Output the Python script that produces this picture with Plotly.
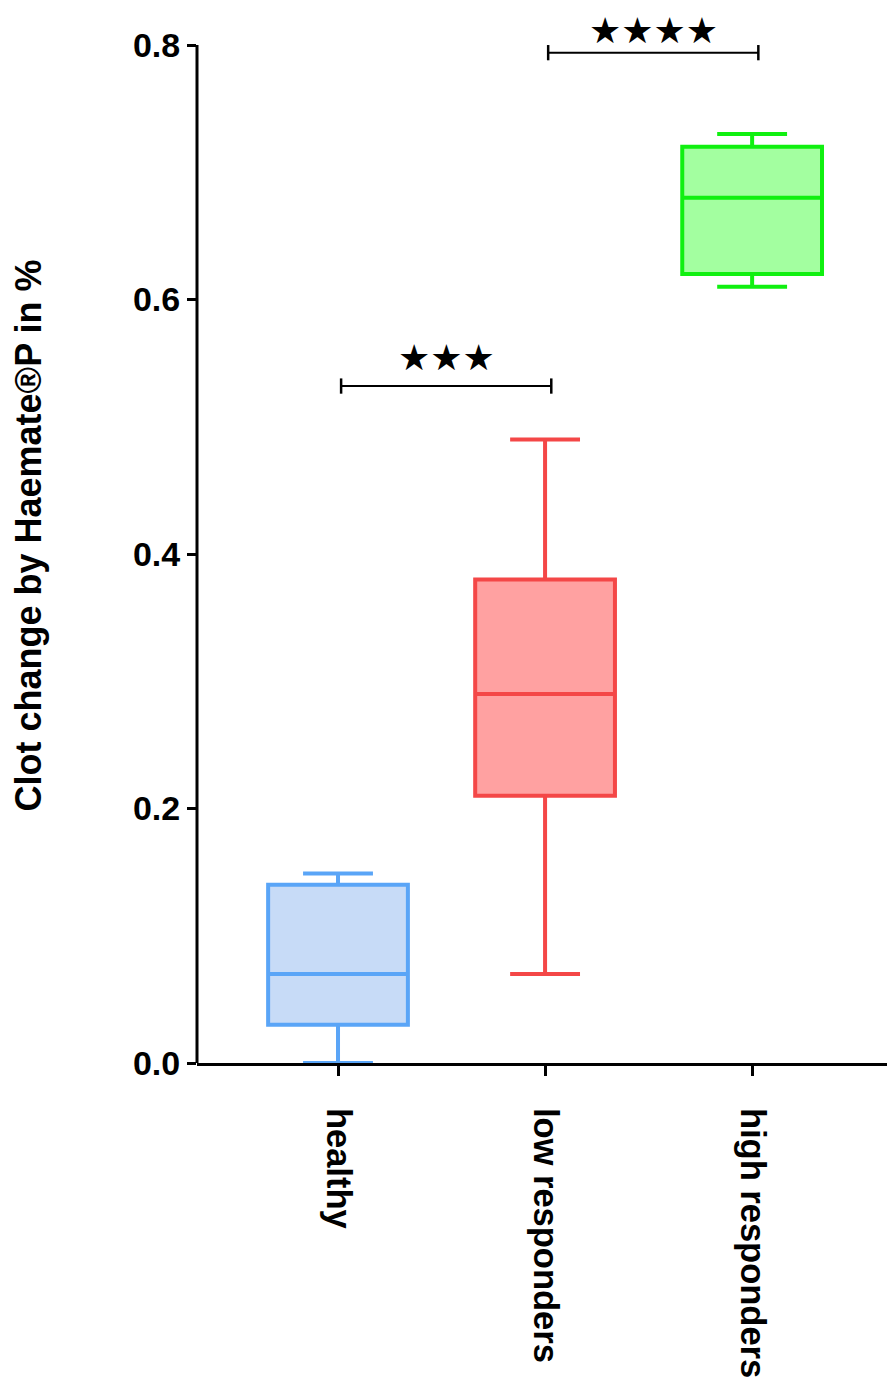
import plotly.graph_objects as go

categories = ["healthy", "low responders", "high responders"]
lower_whisker = [0.0, 0.07, 0.61]
q1_vals = [0.03, 0.21, 0.62]
median_vals = [0.07, 0.29, 0.68]
q3_vals = [0.14, 0.38, 0.72]
upper_whisker = [0.149, 0.49, 0.73]
line_colors = ["#5AA5F7", "#F44747", "#10F010"]
fill_colors = ["#C7DBF7", "#FFA1A1", "#A3FFA0"]
y_ticks = [0.0, 0.2, 0.4, 0.6, 0.8]
Y_MAX = 0.8291

# (group a, group b, bracket height, stars, star height, anchor)
sig_pairs = [(0, 1, 0.532, "★★★", 0.5545, "middle"),
             (1, 2, 0.794, "★★★★", Y_MAX, "top")]

FONT = "Liberation Sans, Arial, sans-serif"

fig = go.Figure()
for i, cat in enumerate(categories):
    fig.add_trace(go.Box(
        x=[i], q1=[q1_vals[i]], median=[median_vals[i]], q3=[q3_vals[i]],
        lowerfence=[lower_whisker[i]], upperfence=[upper_whisker[i]],
        width=0.675, whiskerwidth=0.5,
        line=dict(color=line_colors[i], width=4),
        fillcolor=fill_colors[i], boxpoints=False, hoverinfo="skip",
        showlegend=False,
    ))

# y axis line drawn only up to 0.8
fig.add_shape(type="line", xref="paper", yref="y", x0=0, x1=0, y0=0, y1=0.8,
              line=dict(color="black", width=3))

for a, b, y, stars, ys, anchor in sig_pairs:
    xa, xb = a + 0.015, b + 0.03
    fig.add_shape(type="line", x0=xa, x1=xb, y0=y, y1=y, line=dict(color="black", width=2))
    for xx in (xa, xb):
        fig.add_shape(type="line", x0=xx, x1=xx, y0=y - 0.006, y1=y + 0.006,
                      line=dict(color="black", width=2.5))
    fig.add_annotation(x=(xa + xb) / 2, y=ys, text=stars, showarrow=False,
                       yanchor=anchor, font=dict(family="DejaVu Sans", size=36, color="black"))

fig.update_layout(
    width=887, height=1370,
    margin=dict(l=189, r=0, t=0, b=315, autoexpand=False),
    plot_bgcolor="white", paper_bgcolor="white",
    font=dict(family=FONT, color="black"),
)
fig.update_xaxes(
    range=[-0.681, 2.69], tickvals=[0, 1, 2], ticktext=categories,
    tickangle=90, ticks="outside", ticklen=10, tickwidth=3, tickcolor="black",
    showline=True, linecolor="black", linewidth=3, showgrid=False, zeroline=False,
    tickfont=dict(family=FONT, size=34.5, weight="bold", color="black"),
    ticklabelstandoff=25, automargin=False,
)
fig.update_yaxes(
    range=[0, Y_MAX], tickvals=y_ticks, ticktext=[f"{v:.1f}" for v in y_ticks],
    ticks="outside", ticklen=9, tickwidth=3, tickcolor="black",
    showline=False, showgrid=False, zeroline=False, automargin=False,
    tickfont=dict(family=FONT, size=34, weight="bold", color="black"),
    title=dict(text="Clot change by Haemate®P in %", standoff=106,
               font=dict(family=FONT, size=36, weight="bold", color="black")),
)

fig.write_html("out.html")
